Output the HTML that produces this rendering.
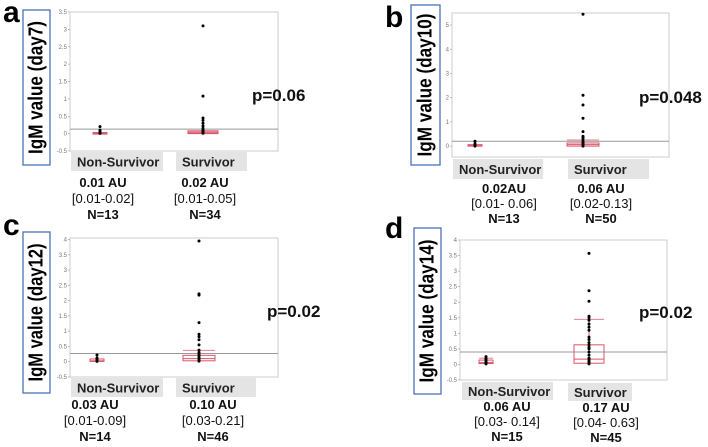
<!DOCTYPE html>
<html><head><meta charset="utf-8"><style>
body{margin:0;background:#fff;width:708px;height:447px;overflow:hidden}
svg{display:block;font-family:"Liberation Sans",sans-serif}
</style></head><body>
<svg id="s" width="708" height="447" xmlns="http://www.w3.org/2000/svg"></svg>
<script>
// Panel a (day7)
const aTicks=[-0.5,0,0.5,1,1.5,2,2.5,3,3.5];
const aNS=[0.2,0.1,0.05,0.03,0.02,0.01,0.01];
const aS=[3.1,1.08,0.45,0.38,0.3,0.22,0.15,0.1,0.08,0.05,0.03,0.01];
const aBoxNS=[0,0.01,0.03,0.03];
const aBoxS=[0,0.02,0.08,0.08];
const aMean=0.13;
// Panel b (day10)
const bTicks=[0,1,2,3,4,5];
const bNS=[0.2,0.1,0.05,0.02,0];
const bS=[5.45,2.1,1.7,1.15,0.6,0.4,0.35,0.3,0.2,0.15,0.1,0.05,0];
const bBoxNS=[0,0.02,0.06,0.06];
const bBoxS=[0,0.06,0.13,0.25];
const bMean=0.2;
// Panel c (day12)
const cTicks=[-0.5,0,0.5,1,1.5,2,2.5,3,3.5,4];
const cNS=[0.22,0.12,0.08,0.04,0.01];
const cS=[3.95,2.22,2.18,1.28,0.9,0.82,0.72,0.55,0.38,0.3,0.25,0.2,0.15,0.1,0.05,0.02];
const cBoxNS=[0.01,0.03,0.09,0.09];
const cBoxS=[0.03,0.1,0.21,0.37];
const cMean=0.27;
// Panel d (day14)
const dTicks=[-0.5,0,0.5,1,1.5,2,2.5,3,3.5,4];
const dNS=[0.25,0.2,0.15,0.1,0.05,0.02];
const dS=[3.57,2.37,2.03,1.55,1.5,1.42,1.3,1.2,1.1,0.88,0.8,0.7,0.62,0.55,0.5,0.4,0.3,0.2,0.15,0.1,0.05,0.02];
const dBoxNS=[0.03,0.06,0.14,0.2];
const dBoxS=[0.04,0.17,0.63,1.45];
const dMean=0.4;

const S=document.getElementById('s');
const NS='http://www.w3.org/2000/svg';
function mk(t,a,txt){const e=document.createElementNS(NS,t);for(const k in a)e.setAttribute(k,a[k]);if(txt!==undefined)e.textContent=txt;S.appendChild(e);return e;}

function panel(P){
  const y=v=>P.y0+(P.vmax-v)/(P.vmax-P.vmin)*(P.y1-P.y0);
  let e=mk('text',{x:P.lx,y:P.ly,'font-size':30,'font-weight':'bold',fill:'#000'},P.letter);
  
  
  e=mk('rect',{x:P.bx0,y:P.by0,width:P.bx1-P.bx0,height:P.by1-P.by0,fill:'#fff',stroke:'#4a72b8','stroke-width':1.3});
  
  
  const cx=(P.bx0+P.bx1)/2, cy=(P.by0+P.by1)/2;
  e=mk('text',{x:cx,y:cy,'font-size':20,'font-weight':'bold','text-anchor':'middle','dominant-baseline':'central',textLength:P.tl,lengthAdjust:'spacingAndGlyphs',transform:`rotate(-90 ${cx} ${cy})`},P.title);
  
  
  e=mk('rect',{x:P.x0,y:P.y0,width:P.x1-P.x0,height:P.y1-P.y0,fill:'#fff',stroke:'#c8ccd0','stroke-width':1});
  
  
  P.ticks.forEach(t=>{
    const l=mk('line',{x1:P.x0-2,x2:P.x0,y1:y(t),y2:y(t),stroke:'#999','stroke-width':0.6});
    
    
    const tx=mk('text',{x:P.x0-3,y:y(t)+2,'font-size':6,fill:'#777','text-anchor':'end'},String(t));
    
    
  });
  e=mk('line',{x1:P.x0,x2:P.x1,y1:y(P.mean),y2:y(P.mean),stroke:'#999','stroke-width':1});
  
  
  [[P.gx[0],P.boxNS,P.hw[0],P.ns,'non-survivor'],[P.gx[1],P.boxS,P.hw[1],P.s,'survivor']].forEach(([gx,b,hw,pts,nm])=>{
    const r=mk('rect',{x:gx-hw,y:y(b[2]),width:hw*2,height:Math.max(1.5,y(b[0])-y(b[2])),fill:P.fill?'rgba(220,80,100,0.55)':'none',stroke:'#d9546a','stroke-width':1});
    
    
    const m=mk('line',{x1:gx-hw,x2:gx+hw,y1:y(b[1]),y2:y(b[1]),stroke:'#d9546a','stroke-width':1});
    
    
    if(b[3]>b[2]){
      const w=mk('line',{x1:gx,x2:gx,y1:y(b[2]),y2:y(b[3]),stroke:'#d9546a','stroke-width':1});
      
      
      const c=mk('line',{x1:gx-hw,x2:gx+hw,y1:y(b[3]),y2:y(b[3]),stroke:'#e08090','stroke-width':1});
      
      
    }
    pts.forEach(v=>{
      const d=mk('circle',{cx:gx,cy:y(v),r:1.5,fill:'#000'});
      
      
    });
  });
  P.cats.forEach((c,i)=>{
    const r=mk('rect',{x:c[0],y:c[1],width:c[2]-c[0],height:c[3]-c[1],fill:'#e4e4e4'});
    
    
    const t=mk('text',{x:c[0]+6,y:(c[1]+c[3])/2+5,'font-size':13,'font-weight':'bold',fill:'#222'},c[4]);
    
    
  });
  P.stats.forEach((s,i)=>{
    s[2].forEach((ln,j)=>{
      const t=mk('text',{x:s[0],y:s[1]+j*P.ls,'font-size':13,'font-weight':j==1?'normal':'bold','text-anchor':'middle',fill:'#111'},ln);
      
      
    });
  });
  e=mk('text',{x:P.px,y:P.py,'font-size':17,'font-weight':'bold',fill:'#111'},P.p);
  
  
}

panel({id:'a',letter:'a',lx:3,ly:22,bx0:23,by0:10,bx1:50,by1:165,title:'IgM value (day7)',tl:133,x0:70,x1:278,y0:12,y1:151,vmin:-0.5,vmax:3.5,ticks:aTicks,mean:aMean,gx:[100,203],hw:[7,15],boxNS:aBoxNS,boxS:aBoxS,ns:aNS,s:aS,fill:true,
 cats:[[71,152,163,171,'Non-Survivor'],[176,152,247,171,'Survivor']],
 stats:[[103,187,['0.01 AU','[0.01-0.02]','N=13']],[205,187,['0.02 AU','[0.01-0.05]','N=34']]],ls:16,p:'p=0.06',px:252,py:101});
panel({id:'b',letter:'b',lx:385,ly:27,bx0:411,by0:5,bx1:440,by1:165,title:'IgM value (day10)',tl:143,x0:452,x1:669,y0:13,y1:157,vmin:-0.45,vmax:5.5,ticks:bTicks,mean:bMean,gx:[475,583],hw:[7,16],boxNS:bBoxNS,boxS:bBoxS,ns:bNS,s:bS,fill:false,
 cats:[[453,159,543,179,'Non-Survivor'],[568,159,649,179,'Survivor']],
 stats:[[504,193,['0.02AU','[0.01- 0.06]','N=13']],[601,193,['0.06 AU','[0.02-0.13]','N=50']]],ls:15,p:'p=0.048',px:639,py:103});
panel({id:'c',letter:'c',lx:3,ly:235,bx0:23,by0:232,bx1:50,by1:393,title:'IgM value (day12)',tl:138,x0:70,x1:278,y0:238,y1:377,vmin:-0.5,vmax:4.05,ticks:cTicks,mean:cMean,gx:[97,199],hw:[7,16],boxNS:cBoxNS,boxS:cBoxS,ns:cNS,s:cS,fill:false,
 cats:[[71,378,163,397,'Non-Survivor'],[176,378,256,397,'Survivor']],
 stats:[[95,409,['0.03 AU','[0.01-0.09]','N=14']],[213,409,['0.10 AU','[0.03-0.21]','N=46']]],ls:16,p:'p=0.02',px:267,py:317});
panel({id:'d',letter:'d',lx:385,ly:238,bx0:414,by0:228,bx1:441,by1:394,title:'IgM value (day14)',tl:143,x0:460,x1:667,y0:240,y1:380,vmin:-0.5,vmax:4,ticks:dTicks,mean:dMean,gx:[486,589],hw:[7,15],boxNS:dBoxNS,boxS:dBoxS,ns:dNS,s:dS,fill:false,
 cats:[[462,382,553,400,'Non-Survivor'],[568,383,632,401,'Survivor']],
 stats:[[507,411,['0.06 AU','[0.03- 0.14]','N=15']],[606,412,['0.17 AU','[0.04- 0.63]','N=45']]],ls:15,p:'p=0.02',px:639,py:318});
</script>
</body></html>
